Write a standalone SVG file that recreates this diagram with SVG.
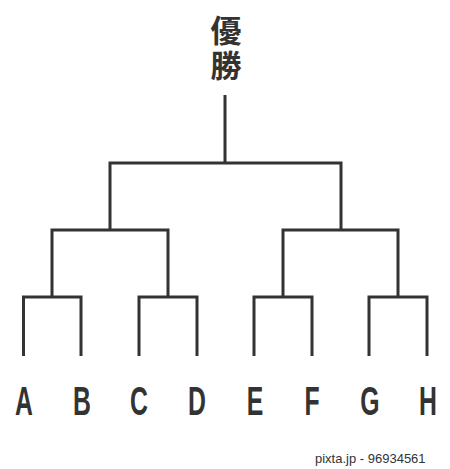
<svg xmlns="http://www.w3.org/2000/svg" width="450" height="469" viewBox="0 0 450 469">
<style>
.ln{fill:none;stroke:#333;stroke-width:3;stroke-linecap:butt;stroke-linejoin:miter}
.lab{font-family:"Liberation Sans","DejaVu Sans",sans-serif;font-weight:bold;font-size:40px;fill:#333;text-anchor:middle}
.ttl{font-family:"Noto Sans CJK JP",sans-serif;font-weight:bold;font-size:31px;fill:#333;writing-mode:vertical-rl;letter-spacing:4px}
.wm{font-family:"Liberation Sans","DejaVu Sans",sans-serif;font-size:13px;fill:#333}
</style>
<rect width="450" height="469" fill="#fff"/>
<g id="title"><text class="ttl" x="226" y="15">優勝</text></g>
<g id="connectors">
<path class="ln" d="M225,95V163"/>
<path class="ln" d="M110,230V163H341V230"/>
<path class="ln" d="M52,297V230H168V297"/>
<path class="ln" d="M283,297V230H398V297"/>
<path class="ln" d="M23.5,356V297H81V356"/>
<path class="ln" d="M139,356V297H197V356"/>
<path class="ln" d="M254,356V297H312V356"/>
<path class="ln" d="M369,356V297H427V356"/>
</g>
<g id="A"><text class="lab" transform="translate(24,415) scale(0.62,1)">A</text></g>
<g id="B"><text class="lab" transform="translate(82,415) scale(0.62,1)">B</text></g>
<g id="C"><text class="lab" transform="translate(139,415) scale(0.62,1)">C</text></g>
<g id="D"><text class="lab" transform="translate(197,415) scale(0.62,1)">D</text></g>
<g id="E"><text class="lab" transform="translate(255,415) scale(0.62,1)">E</text></g>
<g id="F"><text class="lab" transform="translate(312,415) scale(0.62,1)">F</text></g>
<g id="G"><text class="lab" transform="translate(370,415) scale(0.62,1)">G</text></g>
<g id="H"><text class="lab" transform="translate(428,415) scale(0.62,1)">H</text></g>
<text class="wm" x="315" y="463">pixta.jp - 96934561</text>
</svg>
